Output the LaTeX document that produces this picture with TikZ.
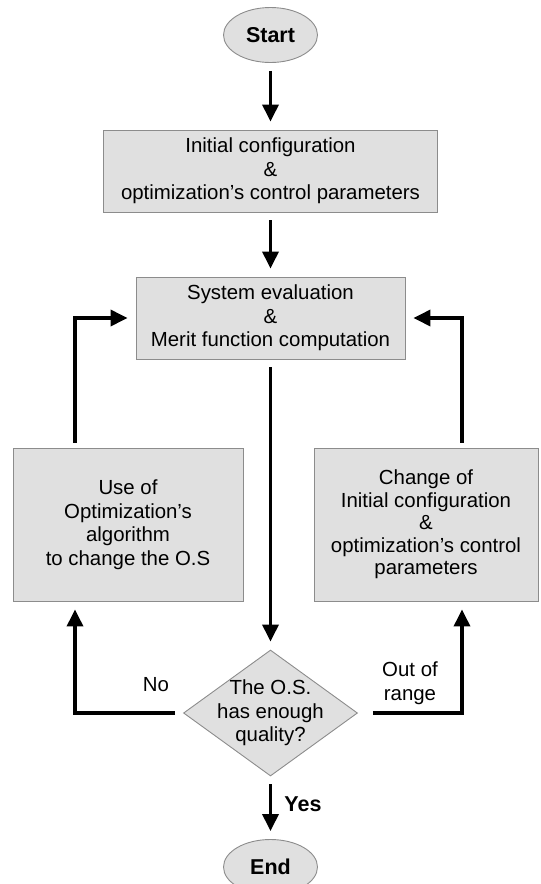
\documentclass[tikz,border=0pt]{standalone}
\usepackage{fontspec}
\setmainfont{Liberation Sans}
\usetikzlibrary{arrows.meta,positioning,shapes.geometric}
\definecolor{bfill}{HTML}{E0E0E0}
\definecolor{bline}{HTML}{8C8C8C}
\newcommand{\txt}{\fontsize{20.4}{23.5}\selectfont}
\tikzset{
  box/.style={draw=bline,fill=bfill,line width=0.9pt,align=center,inner sep=0pt,font=\txt},
  term/.style={box,ellipse,minimum width=94pt,minimum height=55pt,font=\fontsize{21.5}{24}\selectfont\bfseries},
  cond/.style={box,diamond,aspect=1.38,inner sep=-8pt,minimum width=174pt,minimum height=126pt},
  lbl/.style={align=center,inner sep=0pt,font=\txt},
  ar/.style={-{Triangle[length=17pt,width=16pt]},line width=3.5pt,shorten <=8pt,shorten >=8pt},
}

\begin{document}
\begin{tikzpicture}[x=1pt,y=-1pt]
\useasboundingbox (0,0) rectangle (541,884);

% main column
\node[term] (start) at (270.5,35) {Start};
\node[box,minimum width=334pt,minimum height=82pt] (init) at (270.5,171)
  {Initial configuration\\\&\\optimization's control parameters};
\node[box,minimum width=269pt,minimum height=82pt] (eval) at (270.5,318)
  {System evaluation\\\&\\Merit function computation};
\node[cond] (quality) at (270.5,713) {The O.S.\\has enough\\quality?};
\node[term] (finish) at (270.5,867) {End};

% side boxes
\node[box,minimum width=230pt,minimum height=153pt] (optalg) at (128,524.5)
  {Use of\\Optimization's\\algorithm\\to change the O.S};
\node[box,minimum width=224pt,minimum height=153pt,font=\fontsize{20.4}{22.5}\selectfont] (change) at (426,524.5)
  {Change of\\Initial configuration\\\&\\optimization's control\\parameters};

\coordinate (lx) at (75,0);
\coordinate (rx) at (462,0);

\draw[ar] (start) -- (init);
\draw[ar] (init) -- (eval);
\draw[ar] (eval) -- (quality);
\draw[ar] (quality) -- (finish);

% loop back on the left
\draw[ar] (quality.west) -| (lx |- optalg.south);
\draw[ar,shorten <=5pt] (lx |- optalg.north) |- (eval.west);

% loop back on the right
\draw[ar,shorten <=15pt] (quality.east) -| (rx |- change.south);
\draw[ar,shorten <=5pt] (rx |- change.north) |- (eval.east);

\node[lbl] (lblno) at (156,685) {No};
\node[lbl] (lblout) at (410,683) {Out of\\range};
\node[lbl,font=\fontsize{21.5}{24}\selectfont\bfseries] (lblyes) at (303,804) {Yes};
\end{tikzpicture}
\end{document}
